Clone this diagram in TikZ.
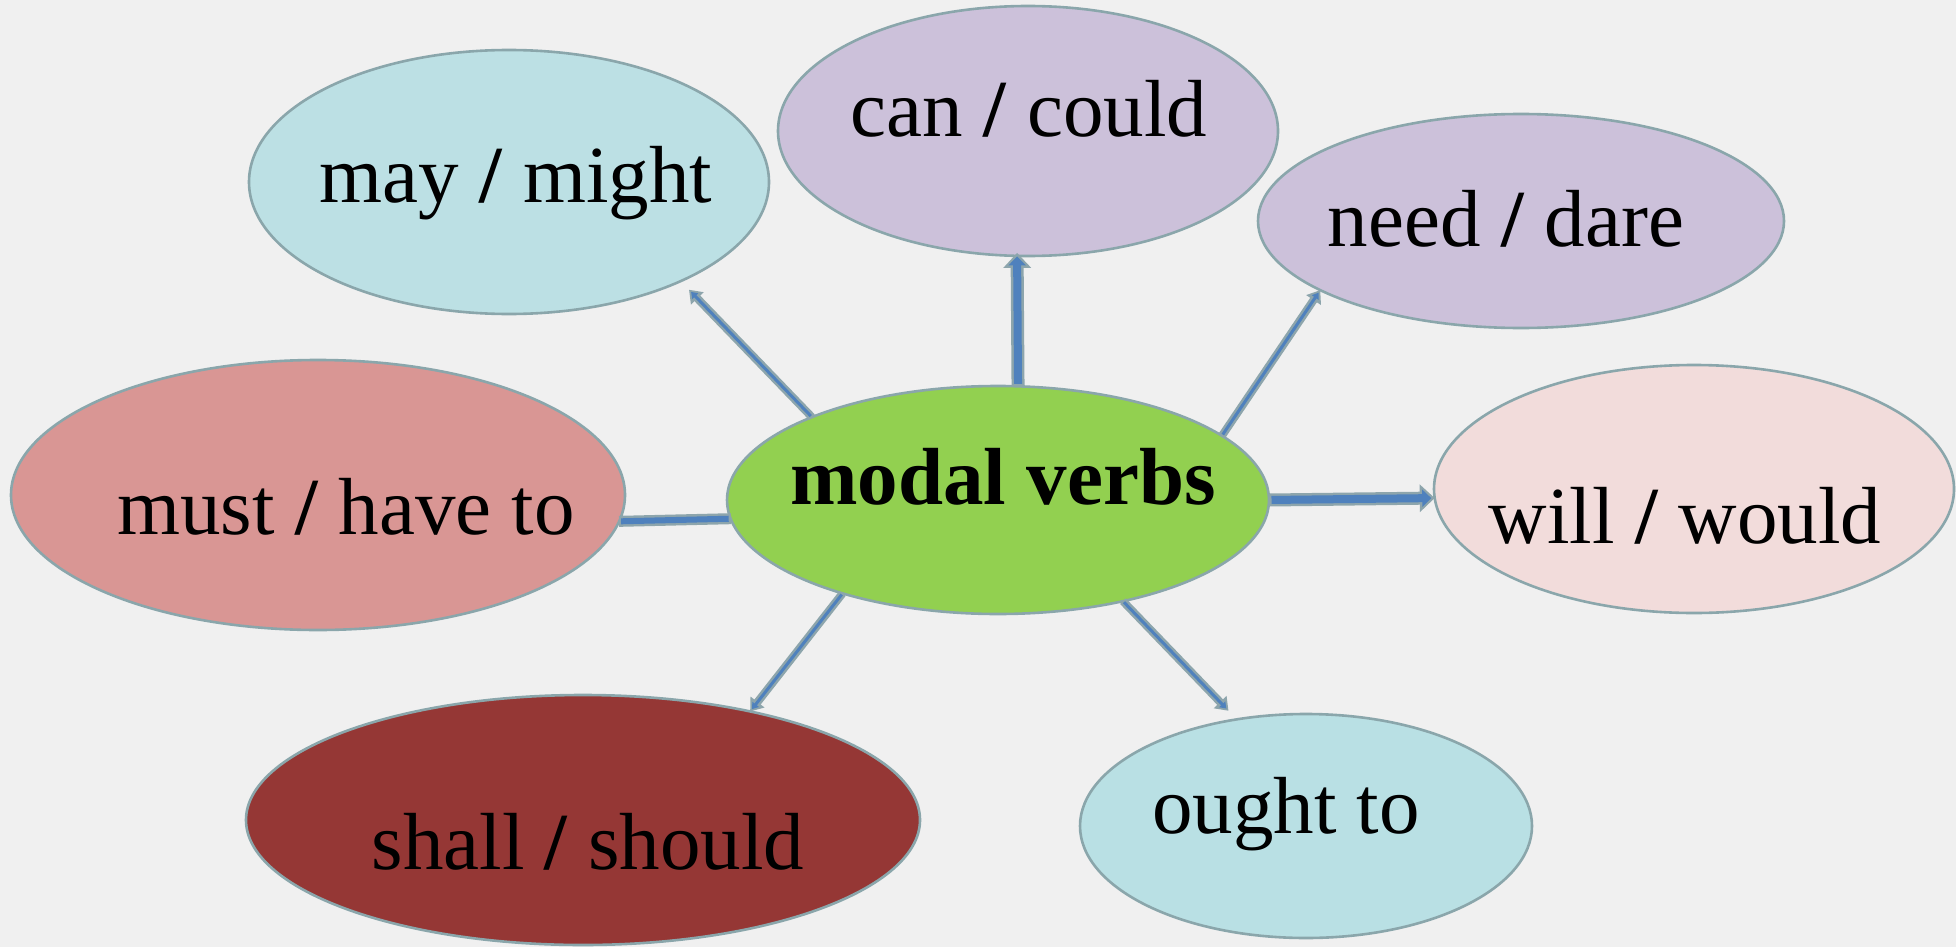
\documentclass[tikz,border=0pt]{standalone}
\usepackage{fontspec}
\setmainfont{Liberation Serif}
\usetikzlibrary{shapes.geometric,arrows.meta}
\definecolor{bg}{HTML}{F0F0F0}
\definecolor{edge}{HTML}{8AA6AB}
\definecolor{cmay}{HTML}{BCE0E4}
\definecolor{ccan}{HTML}{CCC1DA}
\definecolor{cmust}{HTML}{D99694}
\definecolor{cmodal}{HTML}{92D050}
\definecolor{cwill}{HTML}{F2DCDB}
\definecolor{cshall}{HTML}{953735}
\definecolor{cought}{HTML}{B9E0E4}
\definecolor{ablue}{HTML}{4F81BD}
\definecolor{aedge}{HTML}{8DA5AC}
\begin{document}
\begin{tikzpicture}[x=1pt,y=-1pt,
  bubble/.style={ellipse, draw=edge, line width=2.6pt, inner sep=0pt, outer sep=0pt},
  lbl/.style={anchor=base, font=\fontsize{81}{97}\selectfont, text=black, inner sep=0pt},
  thinout/.style={draw=aedge, line width=8pt, -{Triangle[width=17pt,length=12pt]}},
  thinin/.style={draw=ablue, line width=3pt, -{Triangle[width=8pt,length=6pt]}, shorten >=3pt, shorten <=1.5pt},
  thickout/.style={draw=aedge, line width=13pt, -{Triangle[width=27pt,length=15pt]}},
  thickin/.style={draw=ablue, line width=8pt, -{Triangle[width=17pt,length=9pt]}, shorten >=3.5pt, shorten <=2.5pt},
  barout/.style={draw=aedge, line width=11pt},
  barin/.style={draw=ablue, line width=6pt, shorten >=2pt, shorten <=2pt}]
\fill[bg] (0,0) rectangle (1956,947);
\useasboundingbox (0,0) rectangle (1956,947);

% ellipses
\node[bubble, fill=cmay,   minimum width=520pt, minimum height=264pt] (may)   at (509,182) {};
\node[bubble, fill=ccan,   minimum width=500pt, minimum height=250pt] (can)   at (1028,131) {};
\node[bubble, fill=ccan,   minimum width=526pt, minimum height=214pt] (need)  at (1521,221) {};
\node[bubble, fill=cmust,  minimum width=614pt, minimum height=270pt] (must)  at (318,495) {};
\node[bubble, fill=cmodal, minimum width=542pt, minimum height=228pt] (modal) at (998,500) {};
\node[bubble, fill=cwill,  minimum width=520pt, minimum height=248pt] (will)  at (1694,489) {};
\node[bubble, fill=cshall, minimum width=674pt, minimum height=250pt] (shall) at (583,820) {};
\node[bubble, fill=cought, minimum width=452pt, minimum height=224pt] (ought) at (1306,826) {};

% connectors
\draw[thinout, shorten >=12pt] (modal.156.7) -- (may.-30);
\draw[thinin, shorten >=15pt] (modal.156.7) -- (may.-30);

\draw[thickout, shorten >=-3pt] (modal.80) -- (can.265.5);
\draw[thickin, shorten >=0.5pt] (modal.80) -- (can.265.5);

\draw[thinout] (modal.16.2) -- (need.199.2);
\draw[thinin] (modal.16.2) -- (need.199.2);

\draw[thickout] (modal.0.5) -- (will.182);
\draw[thickin] (modal.0.5) -- (will.182);

\draw[barout] (must.-5.5) -- (modal.184.5);
\draw[barin] (must.-5.5) -- (modal.184.5);

\draw[thinout] (modal.211.1) -- (shall.33.7);
\draw[thinin] (modal.211.1) -- (shall.33.7);

\draw[thinout, shorten >=12pt] (modal.-39) -- (ought.123.5);
\draw[thinin, shorten >=15pt] (modal.-39) -- (ought.123.5);

% labels
\node[lbl] (tmay)   at (516,202)  {may \textbf{/} might};
\node[lbl] (tcan)   at (1029,137) {can \textbf{/} could};
\node[lbl] (tneed)  at (1506,246) {need \textbf{/} dare};
\node[lbl] (tmust)  at (346,534)  {must \textbf{/} have to};
\node[lbl, font=\fontsize{81}{97}\selectfont\bfseries] (tmodal) at (1003,504) {modal verbs};
\node[lbl] (twill)  at (1685,543) {will \textbf{/} would};
\node[lbl] (tshall) at (588,869)  {shall \textbf{/} should};
\node[lbl] (tought) at (1286,833) {ought to};
\end{tikzpicture}
\end{document}
